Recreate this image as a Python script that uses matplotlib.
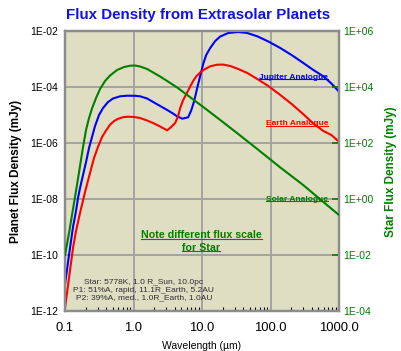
import numpy as np
import matplotlib
matplotlib.use("Agg")
import matplotlib.pyplot as plt
from matplotlib.ticker import FixedLocator, FuncFormatter, LogLocator, NullFormatter
from matplotlib.lines import Line2D

plt.rcParams['font.family'] = ['Liberation Sans', 'DejaVu Sans']

# star flux (mJy, right axis)
star_wl = [0.1, 0.107, 0.1144, 0.1224, 0.1309, 0.140, 0.1497, 0.1657, 0.1833, 0.2028,
           0.2243, 0.248, 0.2839, 0.3249, 0.3844, 0.4548, 0.5757, 0.7289, 0.8918,
           1.055, 1.249, 1.58, 1.934, 2.448, 3.099, 4.339, 5.681, 7.956, 11.14, 18.46,
           33.82, 64.1, 139, 301.7, 591, 1000]
star_flux = [1.03e-2, 2.5e-2, 6.2e-2, 0.168, 0.451, 1.21, 3.24, 15.5, 73.8, 299,
             802, 1750, 4.15e3, 8.69e3, 1.68e4, 2.64e4, 4.15e4, 5.31e4, 5.9e4,
             6.0e4, 5.53e4, 4.51e4, 3.38e4, 2.43e4, 1.68e4, 9.84e3, 6.01e3, 3.24e3,
             1.75e3, 679, 215, 62.5, 13.7, 3.2, 0.80, 0.275]

# Jupiter analogue (mJy, left axis)
jup_wl = [0.1, 0.107, 0.1144, 0.1224, 0.1309, 0.1448, 0.1548, 0.1657, 0.1833, 0.2028,
          0.2243, 0.248, 0.2745, 0.3142, 0.3594, 0.4253, 0.503, 0.6368, 0.8061, 1.055,
          1.249, 1.58, 1.934, 2.448, 3.099, 3.667, 4.339, 5.135, 6.284, 6.953, 7.69,
          8.51, 9.412, 10.41, 11.52, 13.18, 15.6, 18.46, 24.15, 33.82, 45.8, 64.1,
          92.9, 139, 208, 301.7, 422.5, 591, 774, 1000]
jup_flux = [9.3e-12, 2.99e-11, 1.03e-10, 3.24e-10, 1.03e-9, 3.82e-9, 1.11e-8, 2.53e-8,
            7.38e-8, 2.15e-7, 6.79e-7, 1.68e-6, 4.15e-6, 1.03e-5, 1.82e-5, 2.99e-5,
            3.98e-5, 4.77e-5, 5.01e-5, 4.97e-5, 4.77e-5, 3.98e-5, 2.99e-5, 2.15e-5,
            1.55e-5, 1.21e-5, 9.2e-6, 7.56e-6, 8.49e-6, 1.48e-5, 3.24e-5, 9.44e-5,
            2.54e-4, 6.79e-4, 1.43e-3, 2.53e-3, 4.51e-3, 6.52e-3, 8.69e-3, 9.44e-3,
            8.69e-3, 6.63e-3, 4.33e-3, 2.53e-3, 1.37e-3, 7.38e-4, 4.15e-4, 2.47e-4,
            1.37e-4, 7.0e-5]

# Earth analogue (mJy, left axis)
earth_wl = [0.1, 0.107, 0.1144, 0.1224, 0.1309, 0.1448, 0.1657, 0.196, 0.2319, 0.2655,
            0.3038, 0.3475, 0.3976, 0.4548, 0.5203, 0.5954, 0.7047, 0.834, 1.02, 1.249,
            1.58, 1.934, 2.448, 3.099, 3.545, 4.057, 4.487, 4.8, 5.311, 6.016, 6.723,
            7.43, 8.227, 9.412, 10.77, 13.18, 16.51, 20.41, 25.84, 33.82, 45.8, 64.1,
            92.9, 139, 208, 301.7, 422.5, 591, 774, 1000]
earth_flux = [1.32e-12, 4.51e-12, 1.55e-11, 5.31e-11, 1.82e-10, 7.38e-10, 3.24e-9,
              1.82e-8, 8.69e-8, 2.99e-7, 7.56e-7, 1.68e-6, 2.87e-6, 4.62e-6, 6.25e-6,
              7.5e-6, 8.55e-6, 8.91e-6, 8.69e-6, 8.0e-6, 6.52e-6, 5.31e-6, 3.98e-6,
              2.91e-6, 3.82e-6, 5.31e-6, 9.44e-6, 1.82e-5, 3.52e-5, 6.25e-5, 1.07e-4,
              1.68e-4, 2.43e-4, 3.38e-4, 4.33e-4, 5.62e-4, 6.41e-4, 6.47e-4, 5.77e-4,
              4.51e-4, 3.24e-4, 1.98e-4, 1.11e-4, 5.31e-5, 2.43e-5, 1.09e-5, 5.09e-6,
              2.75e-6, 1.98e-6, 1.14e-6]

x_ticks = [0.1, 1, 10, 100, 1000]
x_labels = ['0.1', '1.0', '10.0', '100.0', '1000.0']
info = ("Star: 5778K, 1.0 R_Sun, 10.0pc\n"
        "P1: 51%A, rapid, 11.1R_Earth, 5.2AU\n"
        "P2: 39%A, med., 1.0R_Earth, 1.0AU")

GREEN = '#008000'
BG = '#dfddc2'
GRID = '#a3a3a3'

fig = plt.figure(figsize=(4.01, 3.51), dpi=100)
ax = fig.add_axes([65 / 401, 39.7 / 351, 274 / 401, 280 / 351])
ax.set_facecolor(BG)
ax.set_xscale('log')
ax.set_yscale('log')
ax.set_xlim(0.1, 1000)
ax.set_ylim(1e-12, 1e-2)

ax2 = ax.twinx()
ax2.set_yscale('log')
ax2.set_ylim(1e-4, 1e6)

ax.plot(jup_wl, jup_flux, color='#0000ff', lw=1.5, zorder=3)
ax.plot(earth_wl, earth_flux, color='#ff0000', lw=1.5, zorder=3)
ax2.plot(star_wl, star_flux, color=GREEN, lw=1.5, zorder=3)

# grid + spines
ax.grid(True, which='major', color=GRID, lw=1.4)
ax.set_axisbelow(True)
for a in (ax, ax2):
    for s in a.spines.values():
        s.set_color('#8c8c8c')
        s.set_linewidth(1.6)

fmt = FuncFormatter(lambda v, p: "1E%+03d" % int(round(np.log10(v))))
ax.yaxis.set_major_locator(FixedLocator([10.0 ** k for k in range(-12, -1, 2)]))
ax.yaxis.set_major_formatter(fmt)
ax.yaxis.set_minor_locator(FixedLocator([]))
ax.tick_params(axis='y', which='major', direction='in', length=0, labelsize=7.5, pad=5)

ax2.yaxis.set_major_locator(FixedLocator([10.0 ** k for k in range(-4, 7, 2)]))
ax2.yaxis.set_major_formatter(fmt)
ax2.yaxis.set_minor_locator(FixedLocator([]))
ax2.tick_params(axis='y', which='major', direction='in', length=5, width=1.2,
                color=GREEN, labelcolor=GREEN, labelsize=7.5, pad=3)

ax.xaxis.set_major_locator(FixedLocator(x_ticks))
ax.set_xticklabels(x_labels)
ax.xaxis.set_minor_locator(LogLocator(base=10, subs=np.arange(2, 10)))
ax.xaxis.set_minor_formatter(NullFormatter())
ax.tick_params(axis='x', which='major', direction='in', length=0, labelsize=9.4, pad=8)
ax.tick_params(axis='x', which='minor', direction='in', length=3, width=0.8, color='black')

ax.set_xlabel('Wavelength (\u00b5m)', fontsize=7.5, labelpad=5)
ax.set_ylabel('Planet Flux Density (mJy)', fontsize=8.5, fontweight='bold', labelpad=6)
ax2.set_ylabel('Star Flux Density (mJy)', fontsize=8.5, fontweight='bold',
               color=GREEN, labelpad=8)
fig.text(198.5 / 401, 1 - 15 / 351, 'Flux Density from Extrasolar Planets',
         fontsize=10.9, fontweight='bold', color='#1010f0', ha='center', va='center')

ax.text(0.288, 0.075, info, transform=ax.transAxes, ha='center', va='center',
        fontsize=6, color='#303030', linespacing=1.12, multialignment='center')

labels = [
    (ax.text(0.96, 0.836, 'Jupiter Analogue', color='#0000ff'), '#0000ff'),
    (ax.text(0.96, 0.67, 'Earth Analogue', color='#ff0000'), '#ff0000'),
    (ax.text(0.96, 0.40, 'Solar Analogue', color=GREEN), GREEN),
]
for t, c in labels:
    t.set_transform(ax.transAxes)
    t.set_ha('right')
    t.set_va('center')
    t.set_fontsize(6)
    t.set_fontweight('bold')
note1 = ax.text(0.497, 0.272, 'Note different flux scale', transform=ax.transAxes,
                ha='center', va='center', fontsize=7.7, fontweight='bold', color=GREEN)
note2 = ax.text(0.497, 0.227, 'for Star', transform=ax.transAxes,
                ha='center', va='center', fontsize=7.7, fontweight='bold', color=GREEN)
labels += [(note1, GREEN), (note2, GREEN)]

# underline the link-style labels
fig.canvas.draw()
r = fig.canvas.get_renderer()
inv = fig.transFigure.inverted()
for t, c in labels:
    bb = t.get_window_extent(r)
    (x0, y0), (x1, _) = inv.transform([[bb.x0, bb.y0 + 1.5], [bb.x1, bb.y0]])
    fig.add_artist(Line2D([x0, x1], [y0, y0], color=c, lw=0.8, transform=fig.transFigure))

fig.savefig('out.png', dpi=100)
